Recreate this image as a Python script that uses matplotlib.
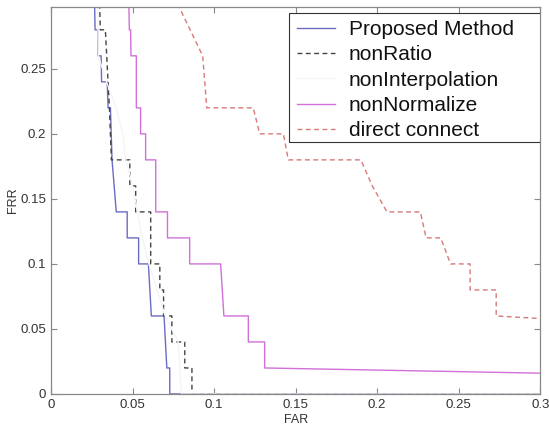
import matplotlib
matplotlib.use("Agg")
import matplotlib.pyplot as plt
from matplotlib.patches import Rectangle

# FAR / FRR vertices, per method
proposed_far = [0.0267, 0.0270, 0.0286, 0.0288, 0.0307, 0.0310, 0.0344, 0.0350, 0.0364,
                0.0374, 0.0400, 0.0467, 0.0467, 0.0537, 0.0537, 0.0597, 0.0615, 0.0693,
                0.0710, 0.0728, 0.0728, 0.30]
proposed_frr = [0.30, 0.28, 0.28, 0.26, 0.26, 0.24, 0.24, 0.22, 0.22,
                0.18, 0.14, 0.14, 0.12, 0.12, 0.10, 0.10, 0.06, 0.06,
                0.02, 0.02, 0.0, 0.0]

nonratio_far = [0.0298, 0.0302, 0.0333, 0.0358, 0.0370, 0.0483, 0.0483, 0.0519, 0.0519,
                0.0611, 0.0611, 0.0667, 0.0667, 0.0690, 0.0690, 0.0741, 0.0741, 0.0820,
                0.0820, 0.0864, 0.0864, 0.30]
nonratio_frr = [0.30, 0.28, 0.28, 0.22, 0.18, 0.18, 0.16, 0.16, 0.14,
                0.14, 0.10, 0.10, 0.08, 0.08, 0.06, 0.06, 0.04, 0.04,
                0.02, 0.02, 0.0, 0.0]

noninterp_far = [0.0285, 0.0290, 0.0340, 0.0400, 0.0440, 0.0460, 0.0500, 0.0530, 0.0560,
                 0.0600, 0.0650, 0.0700, 0.0780, 0.0800, 0.30]
noninterp_frr = [0.30, 0.26, 0.24, 0.22, 0.20, 0.18, 0.16, 0.14, 0.12,
                 0.10, 0.08, 0.06, 0.04, 0.0, 0.0]

nonnorm_far = [0.0477, 0.0480, 0.0488, 0.0490, 0.0523, 0.0523, 0.0549, 0.0549, 0.0580,
               0.0580, 0.0642, 0.0642, 0.0714, 0.0714, 0.0850, 0.0850, 0.1040, 0.1060,
               0.1210, 0.1210, 0.1310, 0.1310, 0.30]
nonnorm_frr = [0.30, 0.28, 0.28, 0.26, 0.26, 0.22, 0.22, 0.20, 0.20,
               0.18, 0.18, 0.14, 0.14, 0.12, 0.12, 0.10, 0.10, 0.06,
               0.06, 0.04, 0.04, 0.02, 0.016]

direct_far = [0.0776, 0.0930, 0.0955, 0.1240, 0.1280, 0.1425, 0.1455, 0.1900, 0.1970,
              0.2060, 0.2265, 0.2300, 0.2390, 0.2450, 0.2570, 0.2570, 0.2730, 0.2730, 0.30]
direct_frr = [0.30, 0.26, 0.22, 0.22, 0.20, 0.20, 0.18, 0.18, 0.16,
              0.14, 0.14, 0.12, 0.12, 0.10, 0.10, 0.08, 0.08, 0.06, 0.058]

series = [
    ("Proposed Method", proposed_far, proposed_frr, "#6b6bc4", "-"),
    ("nonRatio", nonratio_far, nonratio_frr, "#444444", (0, (3.5, 2.5))),
    ("nonInterpolation", noninterp_far, noninterp_frr, "#f5f5f5", "-"),
    ("nonNormalize", nonnorm_far, nonnorm_frr, "#d070d8", "-"),
    ("direct connect", direct_far, direct_frr, "#d87878", (0, (3.5, 2.5))),
]

plt.rcParams["font.family"] = ["Liberation Sans", "DejaVu Sans"]

fig = plt.figure(figsize=(5.49, 4.25), dpi=100)
ax = fig.add_axes([0.093, 0.073, 0.891, 0.911])

for label, far, frr, color, ls in series:
    ax.plot(far, frr, color=color, linestyle=ls, linewidth=1.0, label=label)

ax.set_xlim(0, 0.3)
ax.set_ylim(0, 0.2977)
ax.set_xticks([0, 0.05, 0.1, 0.15, 0.2, 0.25, 0.3])
ax.set_xticklabels(["0", "0.05", "0.1", "0.15", "0.2", "0.25", "0.3"])
ax.set_yticks([0, 0.05, 0.1, 0.15, 0.2, 0.25])
ax.set_yticklabels(["0", "0.05", "0.1", "0.15", "0.2", "0.25"])

ax.tick_params(direction="in", length=4, width=0.8, colors="#888888",
               labelcolor="#333333", labelsize=9.5, top=True, right=True)
for sp in ax.spines.values():
    sp.set_color("#888888")
    sp.set_linewidth(0.9)

ax.set_xlabel("FAR", fontsize=9, color="#333333", labelpad=2)
ax.set_ylabel("FRR", fontsize=9, color="#333333", labelpad=1)

# MATLAB-style legend box: wider than its text on the right
ax.add_patch(Rectangle((0.487, 0.651), 0.513, 0.3335, transform=ax.transAxes,
                       facecolor="white", edgecolor="#333333", linewidth=0.8,
                       zorder=4))
leg = ax.legend(loc="upper left", bbox_to_anchor=(0.487, 0.9845), borderaxespad=0,
                fontsize=15, frameon=False, handlelength=1.85, handletextpad=0.65,
                labelspacing=0.3, borderpad=0.35)
leg.set_zorder(5)
for t in leg.get_texts():
    t.set_color("#111111")

fig.savefig("out.png", dpi=100)
